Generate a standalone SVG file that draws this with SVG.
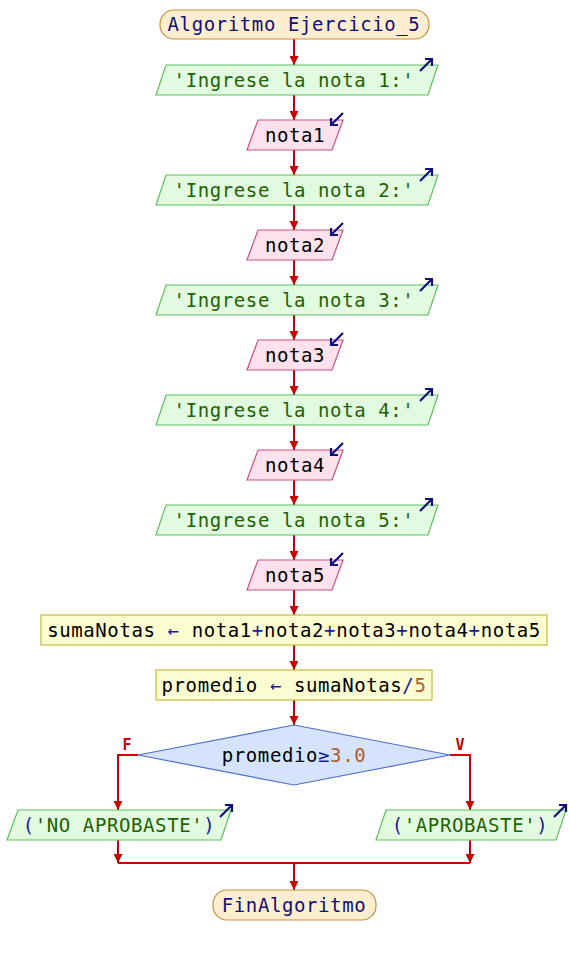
<svg xmlns="http://www.w3.org/2000/svg" width="570" height="955" viewBox="0 0 570 955">
<style>
text{font-family:"DejaVu Sans Mono","Liberation Mono",monospace;font-size:19px;letter-spacing:0.6px;text-anchor:middle;fill:#000}
.term{fill:#fdeecf;stroke:#c8903c;stroke-width:1.2}
.out{fill:#e2fbe0;stroke:#5cbf5c;stroke-width:1.2}
.inp{fill:#fde2ee;stroke:#cc4f82;stroke-width:1.2}
.proc{fill:#fdfdd2;stroke:#c4bc3a;stroke-width:1.2}
.dec{fill:#d5e3fc;stroke:#5070c6;stroke-width:1.2}
.kw{fill:#10107a}
.str{fill:#1f6200}
.op{fill:#1a1a9a}
.num{fill:#b0602a}
.ico{fill:none;stroke:#10107a;stroke-width:2.2}
.c{fill:none;stroke:#cc0000;stroke-width:2}
.lbl{fill:#cc0000;font-weight:bold;font-size:15px;letter-spacing:0}
</style>
<defs>
<marker id="ah" viewBox="0 0 10 10" refX="10" refY="5" markerWidth="4.5" markerHeight="4.5" orient="auto" markerUnits="strokeWidth">
<path d="M0,0 L10,5 L0,10 z" fill="#cc0000"/>
</marker>
</defs>
<g id="connectors">
<path class="c" d="M294,39 V65" marker-end="url(#ah)"/>
<path class="c" d="M294,95 V120" marker-end="url(#ah)"/>
<path class="c" d="M294,150 V175" marker-end="url(#ah)"/>
<path class="c" d="M294,205 V230" marker-end="url(#ah)"/>
<path class="c" d="M294,260 V285" marker-end="url(#ah)"/>
<path class="c" d="M294,315 V340" marker-end="url(#ah)"/>
<path class="c" d="M294,370 V395" marker-end="url(#ah)"/>
<path class="c" d="M294,425 V450" marker-end="url(#ah)"/>
<path class="c" d="M294,480 V505" marker-end="url(#ah)"/>
<path class="c" d="M294,535 V560" marker-end="url(#ah)"/>
<path class="c" d="M294,590 V615" marker-end="url(#ah)"/>
<path class="c" d="M294,645 V670" marker-end="url(#ah)"/>
<path class="c" d="M294,700 V725" marker-end="url(#ah)"/>
<path class="c" d="M138,755 H118 V810" marker-end="url(#ah)"/>
<path class="c" d="M450,755 H470 V810" marker-end="url(#ah)"/>
<path class="c" d="M118,840 V863" marker-end="url(#ah)"/>
<path class="c" d="M470,840 V863" marker-end="url(#ah)"/>
<path class="c" d="M118,863 H470"/>
<path class="c" d="M294,863 V890" marker-end="url(#ah)"/>
<text class="lbl" x="127" y="750">F</text>
<text class="lbl" x="460" y="750">V</text>
</g>
<g id="start">
<rect class="term" x="160" y="10" width="269" height="29" rx="14"/>
<text class="kw" x="294" y="31">Algoritmo Ejercicio_5</text>
</g>
<g id="out1">
<path class="out" d="M166,65 H438 L428,95 H156 Z"/>
<text x="294" y="87"><tspan class="str">'Ingrese la nota 1:'</tspan></text>
<path class="ico" d="M420,71 L432,59 M425,59 H432 V66"/>
</g>
<g id="in1">
<path class="inp" d="M258,120 H343 L332,150 H247 Z"/>
<text x="295" y="142">nota1</text>
<path class="ico" d="M343,113 L331,125 M331,118 V125 H338"/>
</g>
<g id="out2">
<path class="out" d="M166,175 H438 L428,205 H156 Z"/>
<text x="294" y="197"><tspan class="str">'Ingrese la nota 2:'</tspan></text>
<path class="ico" d="M420,181 L432,169 M425,169 H432 V176"/>
</g>
<g id="in2">
<path class="inp" d="M258,230 H343 L332,260 H247 Z"/>
<text x="295" y="252">nota2</text>
<path class="ico" d="M343,223 L331,235 M331,228 V235 H338"/>
</g>
<g id="out3">
<path class="out" d="M166,285 H438 L428,315 H156 Z"/>
<text x="294" y="307"><tspan class="str">'Ingrese la nota 3:'</tspan></text>
<path class="ico" d="M420,291 L432,279 M425,279 H432 V286"/>
</g>
<g id="in3">
<path class="inp" d="M258,340 H343 L332,370 H247 Z"/>
<text x="295" y="362">nota3</text>
<path class="ico" d="M343,333 L331,345 M331,338 V345 H338"/>
</g>
<g id="out4">
<path class="out" d="M166,395 H438 L428,425 H156 Z"/>
<text x="294" y="417"><tspan class="str">'Ingrese la nota 4:'</tspan></text>
<path class="ico" d="M420,401 L432,389 M425,389 H432 V396"/>
</g>
<g id="in4">
<path class="inp" d="M258,450 H343 L332,480 H247 Z"/>
<text x="295" y="472">nota4</text>
<path class="ico" d="M343,443 L331,455 M331,448 V455 H338"/>
</g>
<g id="out5">
<path class="out" d="M166,505 H438 L428,535 H156 Z"/>
<text x="294" y="527"><tspan class="str">'Ingrese la nota 5:'</tspan></text>
<path class="ico" d="M420,511 L432,499 M425,499 H432 V506"/>
</g>
<g id="in5">
<path class="inp" d="M258,560 H343 L332,590 H247 Z"/>
<text x="295" y="582">nota5</text>
<path class="ico" d="M343,553 L331,565 M331,558 V565 H338"/>
</g>
<g id="suma">
<rect class="proc" x="41" y="615" width="506" height="30"/>
<text x="294" y="637">sumaNotas <tspan class="op">←</tspan> nota1<tspan class="op">+</tspan>nota2<tspan class="op">+</tspan>nota3<tspan class="op">+</tspan>nota4<tspan class="op">+</tspan>nota5</text>
</g>
<g id="prom">
<rect class="proc" x="156" y="670" width="276" height="30"/>
<text x="294" y="692">promedio <tspan class="op">←</tspan> sumaNotas<tspan class="op">/</tspan><tspan class="num">5</tspan></text>
</g>
<g id="cond">
<path class="dec" d="M294,725 L450,755 L294,785 L138,755 Z"/>
<text x="294" y="762">promedio<tspan class="op">≥</tspan><tspan class="num">3.0</tspan></text>
</g>
<g id="outNo">
<path class="out" d="M18,810 H231 L221,840 H7 Z"/>
<text x="119" y="832"><tspan class="op">(</tspan><tspan class="str">'NO APROBASTE'</tspan><tspan class="op">)</tspan></text>
<path class="ico" d="M220,817 L232,805 M225,805 H232 V812"/>
</g>
<g id="outSi">
<path class="out" d="M386,810 H566 L556,840 H376 Z"/>
<text x="470" y="832"><tspan class="op">(</tspan><tspan class="str">'APROBASTE'</tspan><tspan class="op">)</tspan></text>
<path class="ico" d="M554,817 L566,805 M559,805 H566 V812"/>
</g>
<g id="end">
<rect class="term" x="213" y="890" width="163" height="30" rx="14"/>
<text class="kw" x="294" y="912">FinAlgoritmo</text>
</g>
</svg>
